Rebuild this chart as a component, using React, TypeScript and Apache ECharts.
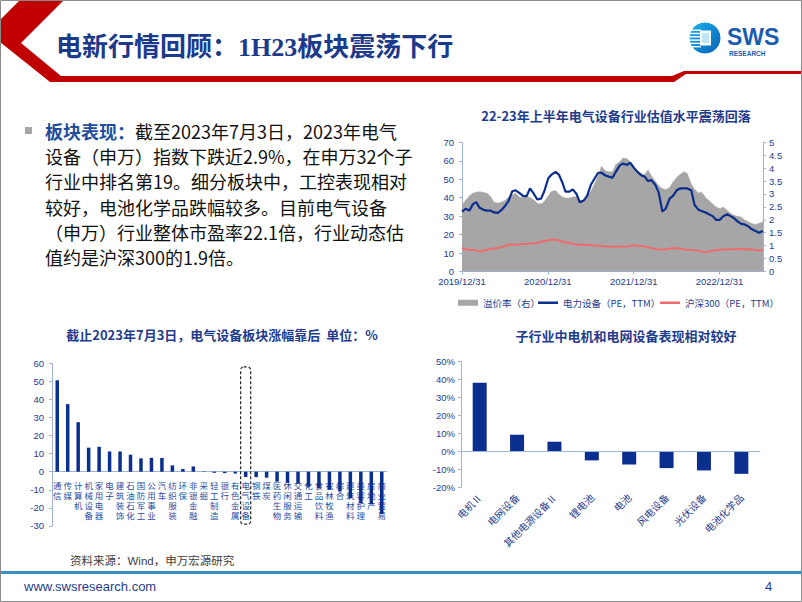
import React, { useEffect, useRef } from 'react';
import * as echarts from 'echarts';

// ---------------- Text content ----------------
const pageTitle = '电新行情回顾：1H23板块震荡下行';
const summaryLead = '板块表现：';
const summaryLines = [
  '截至2023年7月3日，2023年电气',
  '设备（申万）指数下跌近2.9%，在申万32个子',
  '行业中排名第19。细分板块中，工控表现相对',
  '较好，电池化学品跌幅较多。目前电气设备',
  '（申万）行业整体市盈率22.1倍，行业动态估',
  '值约是沪深300的1.9倍。',
];
const sourceNote = '资料来源：Wind，申万宏源研究';
const siteUrl = 'www.swsresearch.com';
const pageNo = '4';

// ---------------- Chart 1: valuation ----------------
const valTitle = '22-23年上半年电气设备行业估值水平震荡回落';
const valSeriesNames = ['溢价率（右）', '电力设备（PE，TTM）', '沪深300（PE，TTM）'];
const valStart = '2019-12-31';
const valEnd = '2023-07-03';
const valXLabels = ['2019/12/31', '2020/12/31', '2021/12/31', '2022/12/31'];
const valDates = [
  '2019-12-31', '2020-01-15', '2020-02-01', '2020-02-15', '2020-03-01', '2020-03-15', '2020-04-01', '2020-04-15',
  '2020-05-01', '2020-05-15', '2020-06-01', '2020-06-15', '2020-07-01', '2020-07-15', '2020-08-01', '2020-08-15',
  '2020-09-01', '2020-09-15', '2020-10-01', '2020-10-15', '2020-11-01', '2020-11-15', '2020-12-01', '2020-12-15',
  '2021-01-01', '2021-01-15', '2021-02-01', '2021-02-15', '2021-03-01', '2021-03-15', '2021-04-01', '2021-04-15',
  '2021-05-01', '2021-05-15', '2021-06-01', '2021-06-15', '2021-07-01', '2021-07-15', '2021-08-01', '2021-08-15',
  '2021-09-01', '2021-09-15', '2021-10-01', '2021-10-15', '2021-11-01', '2021-11-15', '2021-12-01', '2021-12-15',
  '2022-01-01', '2022-01-15', '2022-02-01', '2022-02-15', '2022-03-01', '2022-03-15', '2022-04-01', '2022-04-15',
  '2022-05-01', '2022-05-15', '2022-06-01', '2022-06-15', '2022-07-01', '2022-07-15', '2022-08-01', '2022-08-15',
  '2022-09-01', '2022-09-15', '2022-10-01', '2022-10-15', '2022-11-01', '2022-11-15', '2022-12-01', '2022-12-15',
  '2023-01-01', '2023-01-15', '2023-02-01', '2023-02-15', '2023-03-01', '2023-03-15', '2023-04-01', '2023-04-15',
  '2023-05-01', '2023-05-15', '2023-06-01', '2023-06-15', '2023-07-03',
];
const premiumRatio = [
  2.57, 2.75, 2.93, 3.03, 3.07, 3.09, 3.06, 3.03, 2.89, 2.68, 2.64, 2.68, 2.75, 2.86, 2.96, 3.03,
  2.87, 2.86, 2.9, 2.86, 2.77, 2.64, 2.61, 2.71, 2.93, 3.11, 3.13, 2.99, 2.89, 2.84, 2.84, 2.88,
  2.89, 2.75, 2.75, 2.89, 3.11, 3.36, 3.71, 4.07, 3.89, 3.86, 3.86, 4.14, 4.25, 4.39, 4.36, 4.25,
  4.04, 3.89, 3.79, 3.75, 3.93, 3.71, 3.5, 3.32, 3.21, 3.16, 3.25, 3.46, 3.64, 3.75, 3.86, 3.79,
  3.39, 3.18, 3.04, 3.07, 2.86, 2.75, 2.61, 2.5, 2.43, 2.5, 2.36, 2.25, 2.18, 2.14, 2.11, 2.0,
  1.93, 1.86, 1.82, 1.86, 1.93,
];
const sectorPE = [
  32.5, 34, 33, 36.5, 37.5, 34.5, 33.4, 33, 33, 32, 31.8, 33.2, 35.5, 38, 43.5, 44,
  42.5, 41, 40.8, 45, 42, 39, 39.5, 43.5, 50.5, 52.5, 54, 52.5, 48.5, 43.3, 43.3, 44.5,
  42, 37.5, 38.5, 41, 47, 50, 53.5, 53.5, 52, 51.4, 50.8, 54, 57.5, 58.5, 57.7, 59,
  56, 54, 52, 51.4, 49, 49.5, 47, 43, 32.5, 34, 39.5, 41, 44, 45, 45, 45,
  44, 36, 33.5, 32.8, 32, 31, 30, 28, 28, 30, 31, 30, 29, 27.3, 25.8, 25.5,
  24.5, 23, 22, 21, 22,
];
const hs300PE = [
  12.7, 12, 11.8, 11.8, 11.3, 11, 11.2, 11.8, 12.2, 12.5, 12.7, 13.2, 13.8, 14.5, 14.5, 14.6,
  14.8, 14.9, 14.9, 15.2, 15.3, 15.6, 16, 16.5, 17, 17.2, 17.3, 16.8, 16.3, 15.9, 15.4, 15,
  14.6, 14.5, 14.6, 14.4, 14.3, 14.1, 14, 13.8, 13.6, 13.5, 13.4, 13.4, 13.5, 13.5, 13.6, 13.8,
  14.2, 14, 13.8, 13.5, 13, 12.8, 12.2, 12, 11.8, 12, 12.4, 12.6, 12.7, 12.4, 12, 11.8,
  11.6, 11.5, 11.2, 10.8, 10.5, 10.8, 11.2, 11.6, 11.8, 11.9, 12, 12, 12, 12.2, 12.2, 12.1,
  12, 12, 11.7, 11.5, 11.5,
];

// ---------------- Chart 2: industries ----------------
const indTitle = '截止2023年7月3日，电气设备板块涨幅靠后  单位：%';
const industries = [
  '通信', '传媒', '计算机', '机械设备', '家用电器', '电子', '建筑装饰', '石油石化',
  '国防军工', '公用事业', '汽车', '纺织服装', '环保', '非银金融', '采掘', '轻工制造',
  '银行', '有色金属', '电气设备', '钢铁', '煤炭', '医药生物', '休闲服务', '交通运输',
  '化工', '食品饮料', '农林牧渔', '综合', '建筑材料', '美容护理', '房地产', '商业贸易',
];
const industryReturns = [
  50.6, 37.4, 27.4, 13.3, 13.8, 11.2, 11.2, 9.4,
  7.4, 7.7, 7.6, 3.5, 1.5, 2.9, 0.2, -0.6,
  -0.8, -1.0, -2.9, -3.0, -3.3, -5.5, -6.2, -6.5,
  -8.3, -9.2, -10, -11, -14.7, -17.5, -18, -23.5,
];
const indYMin = -30;
const indYMax = 60;
const highlightIndustry = '电气设备';

// ---------------- Chart 3: sub-industries ----------------
const subTitle = '子行业中电机和电网设备表现相对较好';
const subIndustries = ['电机Ⅱ', '电网设备', '其他电源设备Ⅱ', '锂电池', '电池', '风电设备', '光伏设备', '电池化学品'];
const subReturns = [38.2, 9.3, 5.4, -5.0, -7.3, -9.3, -10.6, -12.5];

// ---------------- Styles ----------------
const NAVY = '#1f3c8c';
const BAR = '#0b2f8f';
const AXIS = '#9fb4d8';
const RED = '#c00000';
const LATIN = "'Liberation Sans','Noto Sans CJK SC',sans-serif";
const CJK = "'Noto Sans CJK SC','Liberation Sans',sans-serif";

const DAY = 86400000;
const dayOffset = (d: string) => Math.round((Date.parse(d) - Date.parse(valStart)) / DAY);

// grid boxes (layout only)
const G1 = { left: 462, top: 142.3, width: 301, height: 129.2 };
const G2 = { left: 52, top: 363.3, width: 335, height: 162.6 };
const G3 = { left: 461, top: 361.7, width: 299, height: 125.6 };

function staticGraphics(): any[] {
  const g: any[] = [];
  g.push({ id: 'frame', type: 'rect', shape: { x: 0.5, y: 0.5, width: 801, height: 601 }, style: { fill: 'none', stroke: '#8a8a8a', lineWidth: 1 }, z: 100 });
  g.push({
    id: 'chev', type: 'polygon',
    shape: { points: [[20, 0], [64, 0], [21, 43], [61, 76], [672, 76], [684, 71], [802, 71], [802, 74], [686, 74], [674, 82], [50, 82], [0, 42], [0, 20]] },
    style: { fill: RED },
  });
  g.push({
    id: 'title', type: 'text', x: 56, y: 47,
    style: { text: pageTitle, fill: '#1c3a8c', font: `bold 26px 'Liberation Serif','Noto Sans CJK SC',serif`, textVerticalAlign: 'middle' },
  });
  g.push({
    id: 'logoC', type: 'circle', shape: { cx: 705, cy: 38, r: 15.5 },
    style: { fill: new echarts.graphic.LinearGradient(0, 0, 1, 1, [{ offset: 0, color: '#19b3ee' }, { offset: 1, color: '#0a5fb4' }]) },
  });
  for (let i = 0; i < 6; i++) {
    g.push({ id: 'logoS' + i, type: 'rect', shape: { x: 689, y: 29.5 + i * 3.3, width: 12, height: 1.4 }, style: { fill: '#ffffff' } });
  }
  g.push({ id: 'logoSq', type: 'rect', shape: { x: 700, y: 30.5, width: 11, height: 15 }, style: { fill: '#ffffff' } });
  g.push({ id: 'logoSq2', type: 'rect', shape: { x: 702, y: 33, width: 7, height: 10 }, style: { fill: '#bfe6fa' } });
  g.push({ id: 'logoT', type: 'text', x: 727, y: 37, style: { text: 'SWS', fill: '#1a5cb0', font: `bold 23px 'Liberation Sans',sans-serif`, textVerticalAlign: 'middle' } });
  g.push({ id: 'logoT2', type: 'text', x: 729, y: 53.5, style: { text: 'RESEARCH', fill: '#1a5cb0', font: `bold 6.5px 'Liberation Sans',sans-serif`, textVerticalAlign: 'middle' } });
  g.push({ id: 'bullet', type: 'rect', shape: { x: 25, y: 127, width: 7, height: 7 }, style: { fill: '#a6a6a6' } });
  summaryLines.forEach((line, i) => {
    const text = i === 0 ? `{b|${summaryLead}}{n|${line}}` : `{n|${line}}`;
    g.push({
      id: 'sum' + i, type: 'text', x: 45, y: 131 + i * 25.2,
      style: {
        text, textVerticalAlign: 'middle',
        rich: {
          b: { fontFamily: CJK, fontSize: 18, fontWeight: 'bold', fill: '#1f4e9c', color: '#1f4e9c' },
          n: { fontFamily: CJK, fontSize: 18, fill: '#111111', color: '#111111' },
        },
      },
    });
  });
  const titleStyle = (text: string) => ({ text, fill: NAVY, font: `bold 13px ${CJK}`, textAlign: 'center', textVerticalAlign: 'middle' });
  g.push({ id: 't1', type: 'text', x: 616, y: 115, style: titleStyle(valTitle) });
  g.push({ id: 't2', type: 'text', x: 222, y: 334, style: titleStyle(indTitle) });
  g.push({ id: 't3', type: 'text', x: 626, y: 335, style: titleStyle(subTitle) });
  g.push({ id: 'src', type: 'text', x: 70, y: 561, style: { text: sourceNote, fill: '#404040', font: `11.5px ${LATIN}`, textVerticalAlign: 'middle' } });
  g.push({ id: 'teal', type: 'rect', shape: { x: 0, y: 571, width: 802, height: 3 }, style: { fill: '#3b8fbf' } });
  g.push({ id: 'url', type: 'text', x: 24, y: 586, style: { text: siteUrl, fill: NAVY, font: `13px ${LATIN}`, textVerticalAlign: 'middle' } });
  g.push({ id: 'pg', type: 'text', x: 765, y: 586, style: { text: pageNo, fill: NAVY, font: `13px ${LATIN}`, textVerticalAlign: 'middle' } });
  return g;
}

function buildOption(): any {
  const axisLabel = { color: NAVY, fontSize: 9.5, fontFamily: LATIN };
  const axisLine = { show: true, lineStyle: { color: AXIS, width: 1 } };
  const axisTick = { show: true, length: 3, lineStyle: { color: AXIS } };
  const toPts = (vals: number[]) => valDates.map((d, i) => [dayOffset(d), vals[i]]);
  // place the category axis of chart 2 on its zero line
  const zeroOffset = -G2.height * (0 - indYMin) / (indYMax - indYMin);
  const legendBase = { top: 298, itemWidth: 20, padding: 0, selectedMode: false, textStyle: { color: NAVY, fontSize: 9.5, fontFamily: CJK } };

  return {
    animation: false,
    backgroundColor: '#ffffff',
    textStyle: { fontFamily: LATIN },
    grid: [
      { ...G1, containLabel: false },
      { ...G2, containLabel: false },
      { ...G3, containLabel: false },
    ],
    legend: [
      { ...legendBase, data: [{ name: valSeriesNames[0], icon: 'rect' }], left: 458, itemHeight: 6 },
      { ...legendBase, data: [{ name: valSeriesNames[1], icon: 'rect' }], left: 538, itemHeight: 2.5 },
      { ...legendBase, data: [{ name: valSeriesNames[2], icon: 'rect' }], left: 660, itemHeight: 2.5 },
    ],
    xAxis: [
      {
        gridIndex: 0, type: 'value', min: 0, max: dayOffset(valEnd), interval: 365,
        axisLine, axisTick: { ...axisTick, length: 3 }, splitLine: { show: false },
        axisLabel: {
          ...axisLabel, margin: 5, showMaxLabel: false,
          formatter: (v: number) => {
            const i = v / 365;
            return Number.isInteger(i) && valXLabels[i] ? valXLabels[i] : '';
          },
        },
      },
      {
        gridIndex: 1, type: 'category', data: industries, offset: zeroOffset,
        axisLine: { ...axisLine, onZero: false }, axisTick: { show: false },
        axisLabel: {
          interval: 0, color: '#2c4da3', fontSize: 8.5, lineHeight: 10, fontFamily: CJK, margin: 8,
          formatter: (v: string) => v.split('').join('\n'),
        },
        z: 1,
      },
      {
        gridIndex: 2, type: 'category', data: subIndustries,
        axisLine: { show: false, onZero: false }, axisTick: { show: false },
        axisLabel: { interval: 0, rotate: 45, color: NAVY, fontSize: 10, fontFamily: CJK, margin: 8 },
      },
    ],
    yAxis: [
      {
        gridIndex: 0, type: 'value', min: 0, max: 70, interval: 10,
        axisLine, axisTick, splitLine: { show: false }, axisLabel: { ...axisLabel, margin: 8 },
      },
      {
        gridIndex: 0, type: 'value', min: 0, max: 5, interval: 0.5, position: 'right',
        axisLine, axisTick, splitLine: { show: false }, axisLabel: { ...axisLabel, margin: 6 },
      },
      {
        gridIndex: 1, type: 'value', min: indYMin, max: indYMax, interval: 10,
        axisLine, axisTick, splitLine: { show: false }, axisLabel: { ...axisLabel, margin: 8 },
      },
      {
        gridIndex: 2, type: 'value', min: -20, max: 50, interval: 10,
        axisLine, axisTick, splitLine: { show: false },
        axisLabel: { ...axisLabel, margin: 6, formatter: '{value}%' },
      },
    ],
    series: [
      {
        name: valSeriesNames[0], type: 'line', xAxisIndex: 0, yAxisIndex: 1,
        data: toPts(premiumRatio), symbol: 'none', showSymbol: false,
        itemStyle: { color: '#a6a6a6' },
        lineStyle: { width: 0.5, color: '#a6a6a6' },
        areaStyle: { color: '#a6a6a6', opacity: 1 },
        z: 1,
      },
      {
        name: valSeriesNames[2], type: 'line', xAxisIndex: 0, yAxisIndex: 0,
        data: toPts(hs300PE), symbol: 'none', showSymbol: false,
        itemStyle: { color: '#ef6a6a' }, lineStyle: { width: 2, color: '#ef6a6a' }, z: 2,
      },
      {
        name: valSeriesNames[1], type: 'line', xAxisIndex: 0, yAxisIndex: 0,
        data: toPts(sectorPE), symbol: 'none', showSymbol: false,
        itemStyle: { color: '#0a2d8e' }, lineStyle: { width: 2.2, color: '#0a2d8e' }, z: 3,
      },
      {
        name: '涨跌幅', type: 'bar', xAxisIndex: 1, yAxisIndex: 2,
        data: industryReturns, barWidth: 3.5, itemStyle: { color: BAR }, z: 3,
      },
      {
        name: '子行业涨跌幅', type: 'bar', xAxisIndex: 2, yAxisIndex: 3,
        data: subReturns, barWidth: 14, itemStyle: { color: BAR },
        markLine: {
          silent: true, symbol: 'none', label: { show: false },
          lineStyle: { color: AXIS, type: 'solid', width: 1 },
          data: [{ yAxis: 0 }],
        },
      },
    ],
    graphic: staticGraphics(),
  };
}

export default function App() {
  const ref = useRef<HTMLDivElement>(null);
  useEffect(() => {
    const el = ref.current;
    if (!el) return;
    const chart = echarts.init(el, null, { renderer: 'svg', width: 802, height: 602 });
    chart.setOption(buildOption());
    const idx = industries.indexOf(highlightIndustry);
    const top = chart.convertToPixel({ gridIndex: 1 } as any, [idx, 58]) as number[];
    const bottom = chart.convertToPixel({ gridIndex: 1 } as any, [idx, -29]) as number[];
    const next = chart.convertToPixel({ gridIndex: 1 } as any, [idx + 1, 0]) as number[];
    const band = next[0] - top[0];
    chart.setOption({
      graphic: [
        ...staticGraphics(),
        {
          id: 'hlbox', type: 'rect', z: 50,
          shape: { x: top[0] - band * 0.48, y: top[1], width: band * 0.96, height: bottom[1] - top[1], r: 3 },
          style: { fill: 'none', stroke: '#222222', lineWidth: 1.2, lineDash: [3, 2] },
        },
      ],
    });
    return () => chart.dispose();
  }, []);
  return <div ref={ref} style={{ position: 'absolute', left: 0, top: 0, width: 802, height: 602 }} />;
}
